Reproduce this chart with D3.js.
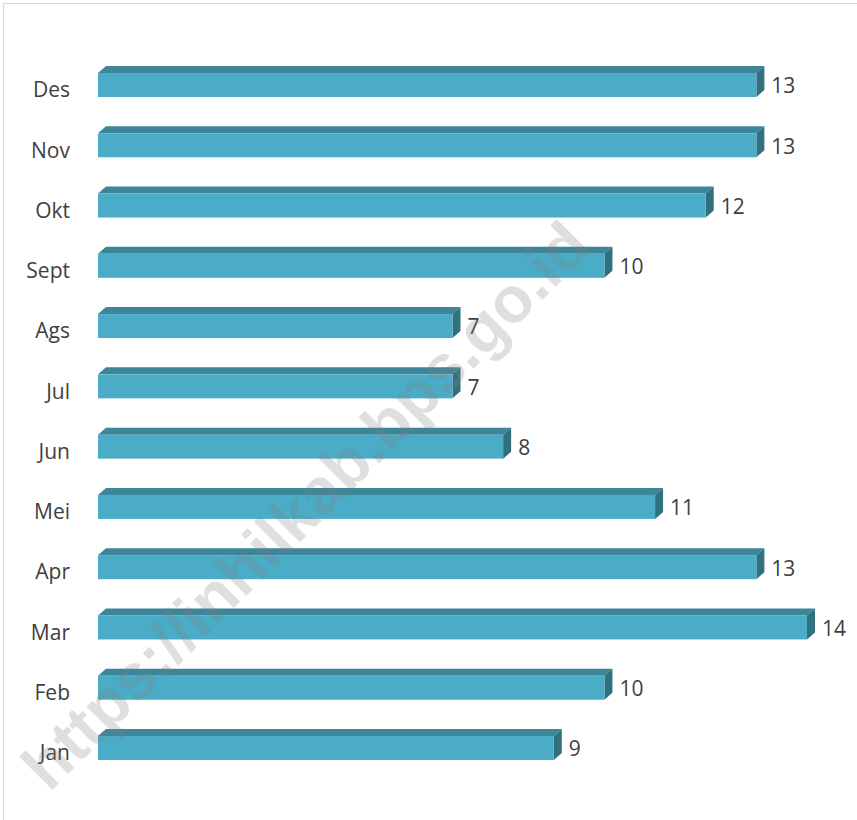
<!DOCTYPE html>
<html>
<head>
<meta charset="utf-8">
<script src="https://cdn.jsdelivr.net/npm/d3@7"></script>
<style>
  html, body { margin: 0; padding: 0; background: #fff; }
  svg { display: block; }
</style>
</head>
<body>
<svg id="chart" width="857" height="820"></svg>
<script>
const months = ["Jan", "Feb", "Mar", "Apr", "Mei", "Jun", "Jul", "Ags", "Sept", "Okt", "Nov", "Des"];
const values = [9, 10, 14, 13, 11, 8, 7, 7, 10, 12, 13, 13];
const watermarkText = "https://inhilkab.bps.go.id";

const data = months.map((m, i) => ({ month: m, value: values[i] }));

const svg = d3.select("#chart");
const W = 857, H = 820;

// frame
svg.append("rect")
  .attr("x", 3.5).attr("y", 3.5)
  .attr("width", W + 10).attr("height", H + 10)
  .attr("fill", "#fff")
  .attr("stroke", "#d9d9d9")
  .attr("stroke-width", 1);

const x = d3.scaleLinear().domain([0, 14]).range([98, 807]);
const y = d3.scalePoint().domain(months.slice().reverse()).range([85, 748]);

const barH = 24, dx = 8, dy = 7;
const frontColor = "#4aacc6", topColor = "#3d8599", sideColor = "#31717f";

const g = svg.append("g");
const bars = g.selectAll("g.bar").data(data).join("g").attr("class", "bar");

// top face
bars.append("path")
  .attr("fill", topColor)
  .attr("d", d => {
    const x0 = x(0), x1 = x(d.value), yt = y(d.month) - barH / 2;
    return `M${x0},${yt} L${x0 + dx},${yt - dy} L${x1 + dx},${yt - dy} L${x1},${yt} Z`;
  });
// side face
bars.append("path")
  .attr("fill", sideColor)
  .attr("d", d => {
    const x1 = x(d.value), yt = y(d.month) - barH / 2, yb = yt + barH;
    return `M${x1},${yt} L${x1 + dx},${yt - dy} L${x1 + dx},${yb - dy} L${x1},${yb} Z`;
  });
// front face
bars.append("rect")
  .attr("fill", frontColor)
  .attr("x", x(0))
  .attr("y", d => y(d.month) - barH / 2)
  .attr("width", d => x(d.value) - x(0))
  .attr("height", barH);

// category labels
const yAxis = d3.axisLeft(y).tickSize(0).tickPadding(0);
const axG = svg.append("g").attr("transform", "translate(70,5)").call(yAxis);
axG.select(".domain").remove();
axG.selectAll("text")
  .attr("font-family", "'Open Sans', sans-serif")
  .attr("font-size", 21)
  .attr("fill", "#404040");

// value labels
bars.append("text")
  .attr("x", d => x(d.value) + dx + 7)
  .attr("y", d => y(d.month) + 1)
  .attr("dy", "0.35em")
  .attr("font-family", "'Open Sans', sans-serif")
  .attr("font-size", 21)
  .attr("fill", "#404040")
  .text(d => d.value);

// watermark
svg.append("text")
  .attr("transform", "translate(305,505) rotate(-45)")
  .attr("text-anchor", "middle")
  .attr("dy", "0.35em")
  .attr("font-family", "'Liberation Sans', Arial, sans-serif")
  .attr("font-weight", "bold")
  .attr("font-size", 65)
  .attr("fill", "#7f7f7f")
  .attr("fill-opacity", 0.25)
  .text(watermarkText);
</script>
</body>
</html>
